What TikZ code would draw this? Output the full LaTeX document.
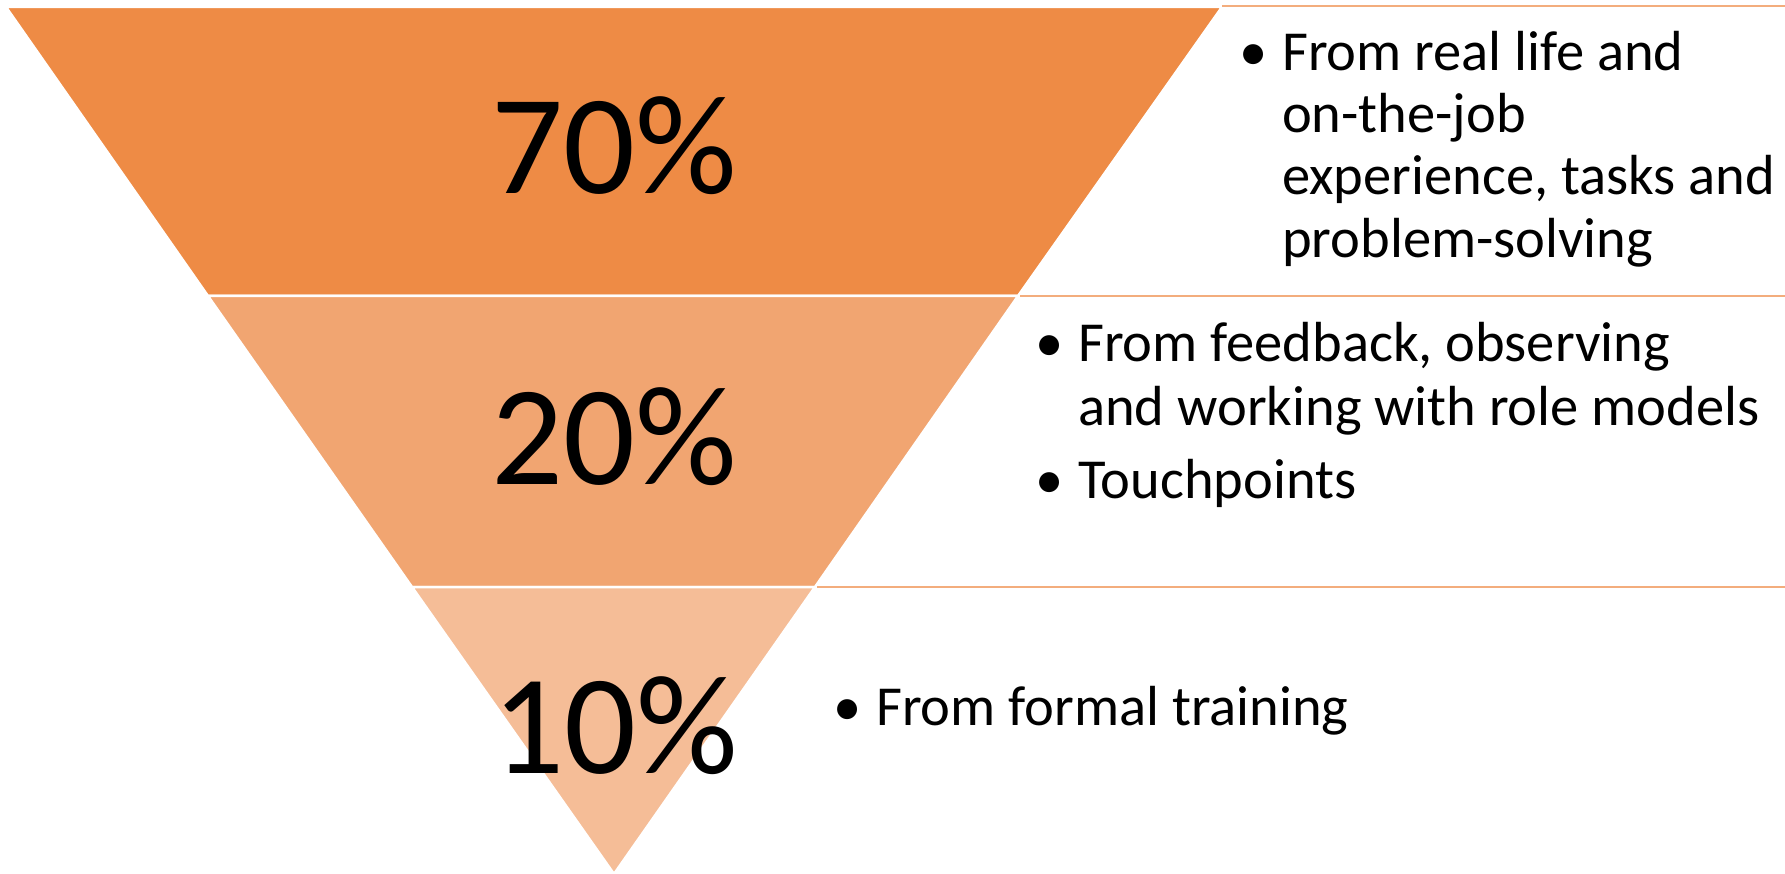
\documentclass[tikz,border=0pt]{standalone}
\usepackage{fontspec}
\setmainfont{Carlito}
\definecolor{bandA}{HTML}{EE8B45}
\definecolor{bandB}{HTML}{F1A571}
\definecolor{bandC}{HTML}{F5BD97}
\definecolor{rule}{HTML}{F3AD7D}
\tikzset{
  band/.style={draw=white, line width=2.5pt, line join=miter},
  divider/.style={draw=rule, line width=2.5pt},
  pct/.style={anchor=base, inner sep=0pt, font=\fontsize{142}{150}\selectfont},
  bulletmark/.style={anchor=base, inner sep=0pt, font=\fontsize{56.5}{62}\selectfont},
  itemline/.style={anchor=base west, inner sep=0pt, font=\fontsize{56.5}{62}\selectfont},
}
\begin{document}
\begin{tikzpicture}[x=1pt, y=-1pt]
  \useasboundingbox (0,0) rectangle (1785,874);
  \fill[white] (0,0) rectangle (1785,874);

  % corners of the inverted triangle and the cuts between its bands
  \coordinate (tl) at (6,7);
  \coordinate (tr) at (1222,7);
  \coordinate (apex) at (614,874);
  \coordinate (l1) at (208,296);
  \coordinate (r1) at (1018,296);
  \coordinate (l2) at (412,587);
  \coordinate (r2) at (815,587);
  \coordinate (e0) at (1785,6);
  \coordinate (e1) at (1785,296);
  \coordinate (e2) at (1785,587);

  % bands
  \path[band, fill=bandA] (tl) -- (tr) -- (r1) -- (l1) -- cycle;
  \path[band, fill=bandB] (l1) -- (r1) -- (r2) -- (l2) -- cycle;
  \path[band, fill=bandC] (l2) -- (r2) -- (apex) -- cycle;

  % rules separating the descriptions
  \draw[divider] (1222,6) -- (e0);
  \draw[divider] ([xshift=2pt]r1) -- (e1);
  \draw[divider] ([xshift=2pt]r2) -- (e2);

  % shares
  \node[pct] (p70) at (614,194) {70\%};
  \node[pct] (p20) at (614,484) {20\%};
  \node[pct] (p10) at (615,773) {10\%};

  % top band description
  \node[bulletmark] (b1) at (1254,71) {•};
  \node[itemline] (t1a) at (1282,71) {From real life and};
  \node[itemline] (t1b) at (1282,133) {on-the-job};
  \node[itemline] (t1c) at (1282,195) {experience, tasks and};
  \node[itemline] (t1d) at (1282,258) {problem-solving};

  % middle band description
  \node[bulletmark] (b2) at (1050,362) {•};
  \node[itemline] (t2a) at (1078,362) {From feedback, observing};
  \node[itemline] (t2b) at (1078,425) {and working with role models};
  \node[bulletmark] (b3) at (1050,498) {•};
  \node[itemline] (t2c) at (1078,498) {Touchpoints};

  % bottom band description
  \node[bulletmark] (b4) at (848,725) {•};
  \node[itemline] (t3a) at (876,725) {From formal training};
\end{tikzpicture}
\end{document}
